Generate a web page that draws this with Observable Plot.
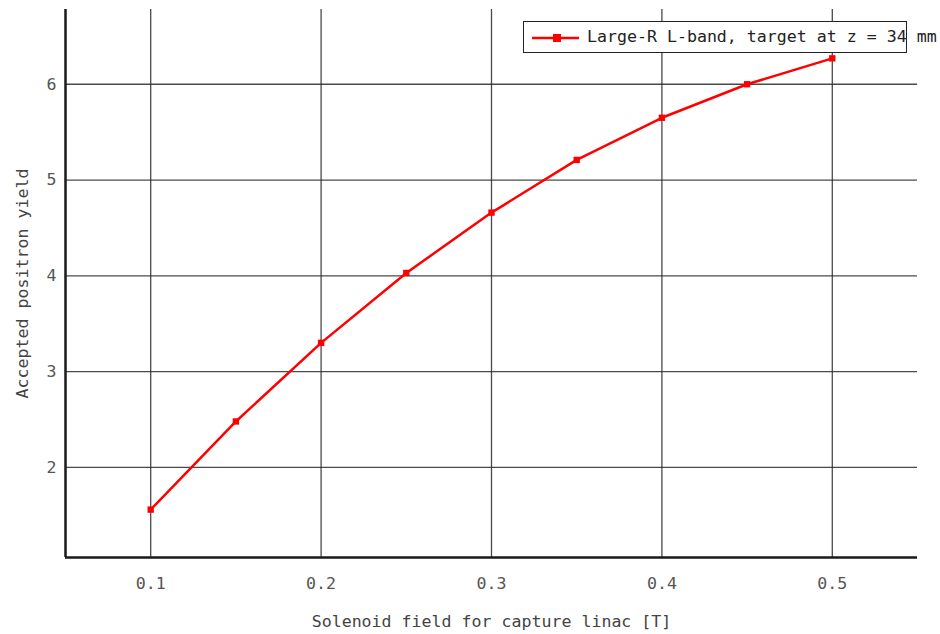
<!DOCTYPE html>
<html>
<head>
<meta charset="utf-8">
<script src="https://cdn.jsdelivr.net/npm/d3@7"></script>
<script src="https://cdn.jsdelivr.net/npm/@observablehq/plot@0.6"></script>
<style>
  html, body { margin: 0; padding: 0; background: #fff; }
  #wrap { position: relative; width: 940px; height: 634px; }
  #legend {
    position: absolute; left: 523px; top: 21px; width: 382px; height: 30px;
    border: 1.5px solid #222; background: #fff; box-sizing: content-box;
    font-family: "DejaVu Sans Mono", monospace; font-size: 16.6px; color: #222;
    white-space: nowrap;
  }
  #legend svg { position: absolute; left: 7px; top: 8px; }
  #legend span { position: absolute; left: 63px; top: 5px; }
</style>
</head>
<body>
<div id="wrap"></div>
<script>
// Data
const field = [0.10, 0.15, 0.20, 0.25, 0.30, 0.35, 0.40, 0.45, 0.50];
const yieldVals = [1.56, 2.48, 3.30, 4.03, 4.66, 5.21, 5.65, 6.00, 6.27];
const xTicks = [0.1, 0.2, 0.3, 0.4, 0.5];
const yTicks = [2, 3, 4, 5, 6];
const xDomain = [0.05, 0.55];
const yDomain = [1.06, 6.78];
const seriesName = "Large-R L-band, target at z = 34 mm";
const xLabel = "Solenoid field for capture linac [T]";
const yLabel = "Accepted positron yield";

const data = field.map((f, i) => ({f, y: yieldVals[i]}));
const red = "#ff0000";
const font = "DejaVu Sans Mono, monospace";

const chart = Plot.plot({
  width: 940,
  height: 634,
  marginLeft: 65,
  marginRight: 23,
  marginTop: 9,
  marginBottom: 77,
  style: {fontFamily: font, fontSize: "16.6px", color: "#444", background: "#fff"},
  x: {domain: xDomain, label: null},
  y: {domain: yDomain, label: null},
  marks: [
    Plot.gridX(xTicks, {stroke: "#2a2a2a", strokeOpacity: 0.85, strokeWidth: 1.3}),
    Plot.gridY(yTicks, {stroke: "#2a2a2a", strokeOpacity: 0.85, strokeWidth: 1.3}),
    Plot.axisX(xTicks, {tickSize: 0, tickPadding: 20, fill: "#555", tickFormat: d => d.toFixed(1), label: null}),
    Plot.axisY(yTicks, {tickSize: 0, tickPadding: 9, fill: "#555", tickFormat: d => String(d), label: null}),
    Plot.text([xLabel], {frameAnchor: "bottom", dy: 69, textAnchor: "middle", fill: "#444", fontFamily: font, fontSize: 16.6, text: d => d}),
    Plot.text([yLabel], {frameAnchor: "left", dx: -43, rotate: -90, textAnchor: "middle", fill: "#444", fontFamily: font, fontSize: 16.6, text: d => d}),
    Plot.ruleX([xDomain[0]], {stroke: "#1a1a1a", strokeWidth: 2.5}),
    Plot.ruleY([yDomain[0]], {stroke: "#1a1a1a", strokeWidth: 2.5}),
    Plot.line(data, {x: "f", y: "y", stroke: red, strokeWidth: 2.5}),
    Plot.dot(data, {x: "f", y: "y", symbol: "square", r: 3.6, fill: red, stroke: "none"})
  ]
});

const wrap = document.getElementById("wrap");
wrap.appendChild(chart);

const legend = document.createElement("div");
legend.id = "legend";
legend.innerHTML = `<svg width="50" height="16"><line x1="1" y1="8" x2="48" y2="8" stroke="${red}" stroke-width="2.5"/><rect x="22" y="4" width="8" height="8" fill="${red}"/></svg><span>${seriesName}</span>`;
wrap.appendChild(legend);
</script>
</body>
</html>
